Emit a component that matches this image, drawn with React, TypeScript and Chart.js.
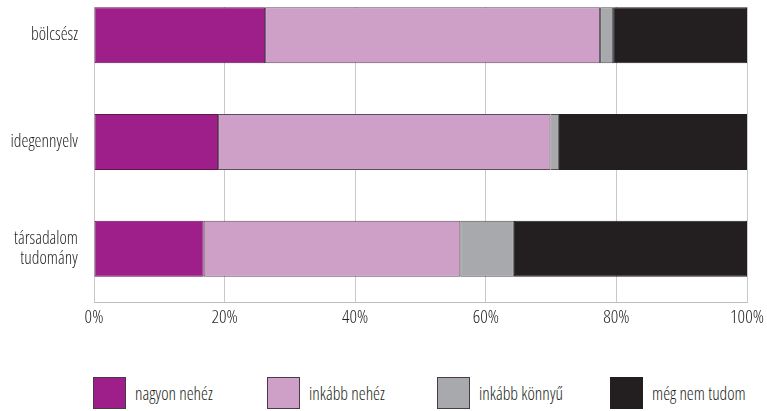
import React, { useEffect, useRef } from "react";
import { Chart, registerables } from "chart.js";

Chart.register(...registerables);

const categories: (string | string[])[] = ["bölcsész", "idegennyelv", ["társadalom", "tudomány"]];
const seriesNames = ["nagyon nehéz", "inkább nehéz", "inkább könnyű", "még nem tudom"];
const nagyonNehez = [26.2, 19.0, 16.8];
const inkabbNehez = [51.3, 50.9, 39.3];
const inkabbKonnyu = [2.0, 1.3, 8.2];
const megNemTudom = [20.5, 28.8, 35.7];
const tickValues = [0, 20, 40, 60, 80, 100];

const fills = ["#9e1f8a", "#cea0c8", "#a7a9ac", "#231f20"];
const borders = ["#5e1752", "#5e4b5c", "#4f4f50", "#231f20"];
const FAMILY = "'Open Sans', sans-serif";
const WEIGHT = "300 condensed";
const TEXT = "#231f20";

export default function App() {
  const ref = useRef<HTMLCanvasElement | null>(null);

  useEffect(() => {
    if (!ref.current) return;
    const values = [nagyonNehez, inkabbNehez, inkabbKonnyu, megNemTudom];
    const zeroPad = (s: any) => {
      s.paddingTop = 0;
      s.paddingBottom = 0;
      s.paddingLeft = 0;
      s.paddingRight = 0;
    };
    const chart = new Chart(ref.current, {
      type: "bar",
      data: {
        labels: categories,
        datasets: seriesNames.map((name, i) => ({
          label: name,
          data: values[i],
          backgroundColor: fills[i],
          borderColor: borders[i],
          borderWidth: 1,
          borderSkipped: false,
          categoryPercentage: 1,
          barPercentage: 0.525,
        })),
      },
      options: {
        indexAxis: "y",
        animation: false,
        responsive: false,
        maintainAspectRatio: false,
        layout: { padding: { top: 22, right: 20, left: 0, bottom: 0 } },
        plugins: { legend: { display: false }, tooltip: { enabled: false } },
        scales: {
          x: {
            stacked: true,
            min: 0,
            max: 100,
            afterBuildTicks: (s: any) => {
              s.ticks = tickValues.map((v) => ({ value: v }));
            },
            afterFit: (s: any) => {
              s.height = 58;
              zeroPad(s);
            },
            ticks: {
              padding: 5,
              color: TEXT,
              font: { family: FAMILY, size: 18.5, weight: WEIGHT as any },
              callback: (v: any) => v + "%",
            },
            grid: { color: "#c9c9c9", lineWidth: 1, drawTicks: false },
            border: { display: true, color: "#bdbdbd" },
          },
          y: {
            stacked: true,
            afterFit: (s: any) => {
              s.width = 94;
              zeroPad(s);
            },
            ticks: {
              padding: 16,
              color: TEXT,
              font: { family: FAMILY, size: 17.5, weight: WEIGHT as any, lineHeight: 1.15 },
            },
            grid: { display: false, drawTicks: false },
            border: { display: false },
          },
        },
      },
    });
    return () => chart.destroy();
  }, []);

  return (
    <div style={{ position: "absolute", left: 0, top: 0, width: 767, height: 411, overflow: "hidden", background: "#fff" }}>
      <div style={{ position: "absolute", left: 0, top: 7, width: 767, height: 404, overflow: "hidden" }}>
        <canvas ref={ref} width={767} height={400} style={{ position: "absolute", left: 0, top: -47, width: 767, height: 400 }} />
      </div>
      {seriesNames.map((name, i) => (
        <div
          key={name}
          style={{
            position: "absolute",
            left: [93, 267, 437, 610][i],
            top: 377,
            height: 32,
            display: "flex",
            alignItems: "center",
            fontFamily: FAMILY,
            fontStretch: "condensed",
            fontWeight: 300,
            fontSize: 17.5,
            color: TEXT,
            whiteSpace: "nowrap",
          }}
        >
          <div style={{ width: 31, height: 30, background: fills[i], border: "1px solid " + (i === 3 ? "#231f20" : "#4a3a48"), marginRight: 9 }} />
          <span>{name}</span>
        </div>
      ))}
    </div>
  );
}
